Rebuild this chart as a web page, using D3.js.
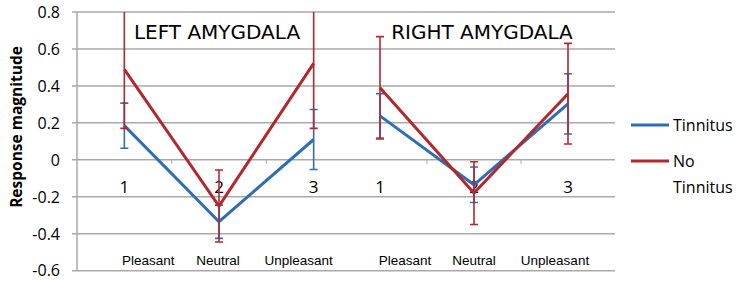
<!DOCTYPE html>
<html>
<head>
<meta charset="utf-8">
<script src="https://cdn.jsdelivr.net/npm/d3@7"></script>
<style>
  body { margin: 0; background: #fff; }
  svg { display: block; }
</style>
</head>
<body>
<div id="chart"></div>
<script>
// data
const categories = ['1', '2', '3']
const conditions = ['Pleasant', 'Neutral', 'Unpleasant']
const yTicks = [0.8, 0.6, 0.4, 0.2, 0, -0.2, -0.4, -0.6]
const panelTitles = ['LEFT AMYGDALA', 'RIGHT AMYGDALA']
const seriesNames = ['Tinnitus', 'No Tinnitus']

const leftTinnitus = [0.185, -0.335, 0.11]
const leftTinnitusErr = [0.122, 0.09, 0.162]
const leftNoTinnitus = [0.49, -0.25, 0.522]
const leftNoTinnitusErr = [0.32, 0.195, 0.352]

const rightTinnitus = [0.238, -0.135, 0.303]
const rightTinnitusErr = [0.12, 0.096, 0.163]
const rightNoTinnitus = [0.39, -0.18, 0.358]
const rightNoTinnitusErr = [0.277, 0.17, 0.272]

const width = 743
const height = 282

const blue = '#2f6db6'
const red = '#b3282c'
const grid = '#a9a9a9'

const svg = d3.select('#chart').append('svg')
  .attr('width', width)
  .attr('height', height)

const y = d3.scaleLinear().domain([-0.6, 0.8]).range([270.7, 12])

const plotLeft = 77
const plotRight = 615

// gridlines
svg.append('g')
  .selectAll('line')
  .data(yTicks)
  .enter()
  .append('line')
  .attr('x1', plotLeft - 5)
  .attr('x2', plotRight)
  .attr('y1', d => y(d))
  .attr('y2', d => y(d))
  .attr('stroke', grid)
  .attr('stroke-width', 1.5)

// vertical axis line
svg.append('line')
  .attr('x1', plotLeft).attr('x2', plotLeft)
  .attr('y1', y(0.8)).attr('y2', y(-0.6))
  .attr('stroke', grid)
  .attr('stroke-width', 1.5)

// tick labels
svg.append('g')
  .selectAll('text')
  .data(yTicks)
  .enter()
  .append('text')
  .attr('x', 60)
  .attr('y', d => y(d))
  .attr('dy', '0.36em')
  .attr('text-anchor', 'end')
  .attr('font-family', 'Open Sans, sans-serif')
  .attr('font-size', 16)
  .attr('fill', '#000')
  .text(d => d)

// y title
svg.append('text')
  .attr('transform', 'translate(22,127) rotate(-90)')
  .attr('text-anchor', 'middle')
  .attr('font-family', 'Open Sans, sans-serif')
  .attr('font-weight', 'bold')
  .attr('font-size', 15.5)
  .text('Response magnitude')

const panels = [
  { range: [77, 361], title: panelTitles[0], labelOffsets: [24, -1, -15],
    series: [
      { values: leftTinnitus, err: leftTinnitusErr, color: blue },
      { values: leftNoTinnitus, err: leftNoTinnitusErr, color: red }
    ] },
  { range: [333, 615], title: panelTitles[1], labelOffsets: [25, 0, -13],
    series: [
      { values: rightTinnitus, err: rightTinnitusErr, color: blue },
      { values: rightNoTinnitus, err: rightNoTinnitusErr, color: red }
    ] }
]

// clip so long error bars stop at the top of the plot
svg.append('clipPath').attr('id', 'plotclip')
  .append('rect')
  .attr('x', 0).attr('y', y(0.8))
  .attr('width', width).attr('height', y(-0.6) - y(0.8))

panels.forEach(p => {
  const x = d3.scaleBand().domain(categories).range(p.range)
  const cx = d => x(d) + x.bandwidth() / 2

  // small ticks on the zero line between categories
  const g = svg.append('g')
  g.selectAll('.tick')
    .data(categories.slice(1))
    .enter()
    .append('line')
    .attr('x1', d => x(d)).attr('x2', d => x(d))
    .attr('y1', y(0)).attr('y2', y(0) + 4)
    .attr('stroke', grid)
    .attr('stroke-width', 1)

  // category numbers under the zero line
  g.selectAll('.num')
    .data(categories)
    .enter()
    .append('text')
    .attr('x', d => cx(d))
    .attr('y', y(0) + 27)
    .attr('dy', '0.36em')
    .attr('text-anchor', 'middle')
    .attr('font-family', 'Open Sans, sans-serif')
    .attr('font-size', 17)
    .text(d => d)

  // condition names along the bottom
  g.selectAll('.cond')
    .data(conditions)
    .enter()
    .append('text')
    .attr('x', (d, i) => cx(categories[i]) + p.labelOffsets[i])
    .attr('y', 260)
    .attr('dy', '0.36em')
    .attr('text-anchor', 'middle')
    .attr('font-family', 'Liberation Sans, Arial, sans-serif')
    .attr('font-size', 13.5)
    .text(d => d)

  const line = d3.line()
    .x((d, i) => cx(categories[i]))
    .y(d => y(d))

  const marks = svg.append('g').attr('clip-path', 'url(#plotclip)')
  p.series.forEach(s => {
    marks.append('path')
      .datum(s.values)
      .attr('d', line)
      .attr('fill', 'none')
      .attr('stroke', s.color)
      .attr('stroke-width', 3)
      .attr('stroke-linejoin', 'miter')

    s.values.forEach((v, i) => {
      const xx = cx(categories[i])
      const hi = v + s.err[i]
      const lo = v - s.err[i]
      marks.append('line')
        .attr('x1', xx).attr('x2', xx)
        .attr('y1', y(hi)).attr('y2', y(lo))
        .attr('stroke', s.color).attr('stroke-width', 1.6)
      ;[hi, lo].forEach(e => {
        marks.append('line')
          .attr('x1', xx - 4).attr('x2', xx + 4)
          .attr('y1', y(e)).attr('y2', y(e))
          .attr('stroke', s.color).attr('stroke-width', 1.6)
      })
    })
  })

  // panel title
  svg.append('text')
    .attr('x', (p.range[0] + p.range[1]) / 2 + (p === panels[0] ? -2 : 8))
    .attr('y', 32)
    .attr('dy', '0.36em')
    .attr('text-anchor', 'middle')
    .attr('font-family', 'DejaVu Sans, Verdana, sans-serif')
    .attr('font-size', 20)
    .text(p.title)
})

// legend
const legend = svg.append('g')
const legendColors = [blue, red]
const legendY = [125, 161]
seriesNames.forEach((name, i) => {
  legend.append('line')
    .attr('x1', 631).attr('x2', 669)
    .attr('y1', legendY[i]).attr('y2', legendY[i])
    .attr('stroke', legendColors[i])
    .attr('stroke-width', 3)
  const t = legend.append('text')
    .attr('x', 673)
    .attr('y', legendY[i])
    .attr('dy', '0.36em')
    .attr('font-family', 'Open Sans, sans-serif')
    .attr('font-size', 16)
  const words = name === 'No Tinnitus' ? ['No', 'Tinnitus'] : [name]
  words.forEach((w, j) => {
    t.append('tspan')
      .attr('x', 673)
      .attr('dy', j === 0 ? '0.36em' : 26)
      .text(w)
  })
})
</script>
</body>
</html>
